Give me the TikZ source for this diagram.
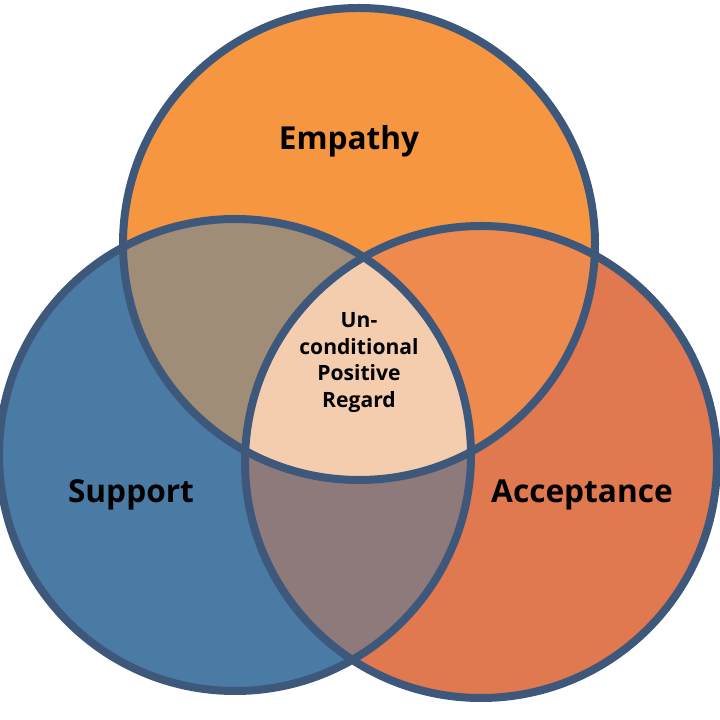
\documentclass[tikz,border=0pt]{standalone}
\usepackage{fontspec}
\setmainfont{Open Sans}
\definecolor{Edge}{RGB}{62,88,124}
\definecolor{Top}{RGB}{247,150,64}
\definecolor{Left}{RGB}{74,123,164}
\definecolor{Right}{RGB}{224,120,80}
\definecolor{TopLeft}{RGB}{160,141,120}
\definecolor{TopRight}{RGB}{238,138,78}
\definecolor{Bottom}{RGB}{143,122,123}
\definecolor{Middle}{RGB}{244,205,174}
\begin{document}
\begin{tikzpicture}
[
Ring/.style={draw=Edge, line width=1.6mm},
Label/.style={font=\bfseries\fontsize{18}{20}\selectfont, text=black},
Small/.style={font=\bfseries\fontsize{12}{15}\selectfont, text=black, align=center}
]
\fill[white] (0,0) rectangle (14.4,14.4);
\useasboundingbox (0,0) rectangle (14.4,14.4);

% circle centres
\coordinate (T) at (7.18,9.52);
\coordinate (L) at (4.70,5.30);
\coordinate (R) at (9.62,5.16);
\def\rad{4.72}

\fill[Left]  (L) circle (\rad);
\fill[Right] (R) circle (\rad);
\fill[Top]   (T) circle (\rad);

\begin{scope}
\clip (T) circle (\rad);
\fill[TopLeft]  (L) circle (\rad);
\fill[TopRight] (R) circle (\rad);
\end{scope}
\begin{scope}
\clip (L) circle (\rad);
\fill[Bottom] (R) circle (\rad);
\clip (R) circle (\rad);
\fill[Middle] (T) circle (\rad);
\end{scope}

\draw[Ring] (T) circle (\rad);
\draw[Ring] (L) circle (\rad);
\draw[Ring] (R) circle (\rad);

\node[Label] (empathy) at (6.98,11.58) {Empathy};
\node[Label] (support) at (2.62,4.50) {Support};
\node[Label] (accept) at (11.64,4.50) {Acceptance};
\node[Small] (upr) at (7.18,7.15) {Un-\\conditional\\Positive\\Regard};
\end{tikzpicture}
\end{document}
